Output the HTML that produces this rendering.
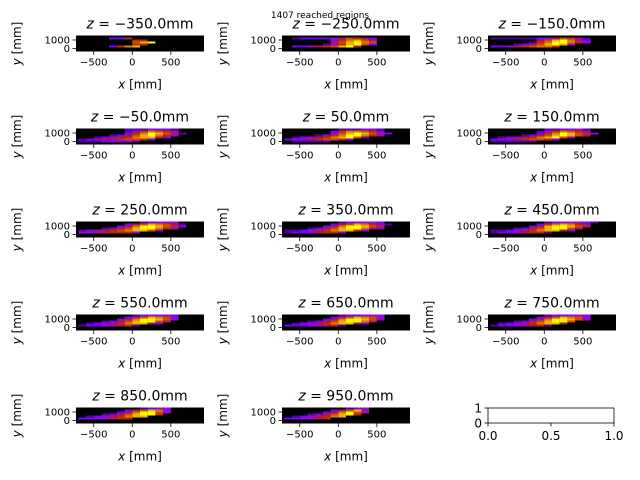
<!DOCTYPE html>
<html><head><meta charset="utf-8"><style>
body{margin:0;background:#fff}
svg{display:block;font-family:"DejaVu Sans","Liberation Sans",sans-serif}
</style></head><body>
<svg id="fig" width="640" height="480" viewBox="0 0 640 480" xmlns="http://www.w3.org/2000/svg">
<rect width="640" height="480" fill="#fff"/>
<text x="320" y="18" font-size="9" text-anchor="middle">1407 reached regions</text>
</svg>
<script>
const zValues = ["-350.0","-250.0","-150.0","-50.0","50.0","150.0","250.0","350.0","450.0","550.0","650.0","750.0","850.0","950.0"];
const xTicks = [-500, 0, 500];
const yTicks = [0, 1000];
const xBinStart = -700, xBinWidth = 100;
// each panel: 8 rows (top = high y), 16 x-bins from -700 to 900, intensity 0-9
const panelGrids = [
 ["0000000000000000","0000225000000000","0000000550000000","0000000689000000","0000000550000000","0000257800000000","0000000000000000","0000000000000000"],
 ["0000000000000000","0122223465420000","0000003578640000","0000004689760000","0000013589620000","0223456894000000","0000000000000000","0000000000000000"],
 ["0000000000000000","1111112346531000","0000004689742000","0000015799753000","0001246898300000","2234567750000000","0000000000000000","0000000000000000"],
 ["0000001112221000","0000001357653000","0000002579864100","0000124689753000","0012345788420000","1234456652000000","1112222100000000","0000000000000000"],
 ["0000000111221000","0000002577652000","0000003689864200","0000135799753000","0123457896100000","2334566520000000","0111110000000000","0000000000000000"],
 ["0000000112231000","0000001357653000","0000002579865300","0000124689864000","0123457896200000","2334566520000000","1111110000000000","0000000000000000"],
 ["0000000012333000","0000002468764100","0000024799865200","0001246899753000","1234567886200000","3344555200000000","0000000000000000","0000000000000000"],
 ["0000000123332000","0000002468753100","0000024799865000","0001246899742000","1123457885200000","1223455200000000","0000000000000000","0000000000000000"],
 ["0000000123332100","0000002578753000","0000024899865000","0001246899640000","1123457884200000","1223455100000000","0000000000000000","0000000000000000"],
 ["0000000123332000","0000002468763000","0000024799863000","0001246899640000","0123457884200000","1223345100000000","0000000000000000","0000000000000000"],
 ["0000000122333000","0000002468763000","0000024799863000","0001246899740000","0123457884200000","2223345100000000","0000000000000000","0000000000000000"],
 ["0000000122333000","0000002468763000","0000024799863000","0001246899600000","0123457884000000","1223345100000000","0000000000000000","0000000000000000"],
 ["0000000012330000","0000002468730000","0000024799630000","0001246899500000","0123457880000000","2233455000000000","0000000000000000","0000000000000000"],
 ["0000000012300000","0000002468400000","0000024796300000","0001246895000000","0123457800000000","2233450000000000","0000000000000000","0000000000000000"]
];
const colLeft=[76,282,488], rowTop=[35.5,128.5,221.5,314.5,407.5], AW=128, AH=16;
const xMin=-730, xMax=930, yMin=-353, yMax=1529;
const NS="http://www.w3.org/2000/svg";
const svg=document.getElementById('fig');
function mk(tag,attrs,parent){const e=document.createElementNS(NS,tag);for(const k in attrs)e.setAttribute(k,attrs[k]);(parent||svg).appendChild(e);return e;}
function cmap(t){const r=Math.sqrt(t),g=t*t*t,b=Math.max(0,Math.sin(2*Math.PI*t));return `rgb(${Math.round(r*255)},${Math.round(g*255)},${Math.round(b*255)})`;}
zValues.forEach((z,i)=>{
  const L=colLeft[i%3], T=rowTop[Math.floor(i/3)];
  const sx=v=>L+(v-xMin)/(xMax-xMin)*AW, sy=v=>T+AH-(v-yMin)/(yMax-yMin)*AH;
  const g=mk('g',{});
  
  
  const bg=mk('rect',{x:L,y:T,width:AW,height:AH,fill:'#000'},g);
  
  
  const grid=panelGrids[i], nr=grid.length, rh=(yMax-yMin)/nr;
  grid.forEach((row,r)=>{
    for(let c=0;c<row.length;c++){
      const v=+row[c]; if(!v) continue;
      const x0=xBinStart+c*xBinWidth, y1=yMax-r*rh;
      const cell=mk('rect',{x:sx(x0),y:sy(y1),width:sx(x0+xBinWidth)-sx(x0),height:sy(y1-rh)-sy(y1),fill:cmap(v/9)},g);
      
      
    }
  });
  xTicks.forEach(t=>{
    mk('line',{x1:sx(t),x2:sx(t),y1:T+AH,y2:T+AH+3.5,stroke:'#000','stroke-width':0.8},g);
    const lb=mk('text',{x:sx(t),y:T+AH+14,'font-size':10,'text-anchor':'middle'},g);
    lb.textContent=t<0?'\u2212'+(-t):String(t);
    
    
  });
  yTicks.forEach(t=>{
    mk('line',{x1:L,x2:L-3.5,y1:sy(t),y2:sy(t),stroke:'#000','stroke-width':0.8},g);
    const lb=mk('text',{x:L-6,y:sy(t)+3.5,'font-size':10,'text-anchor':'end'},g);
    lb.textContent=String(t);
    
    
  });
  const tt=mk('text',{x:L+AW/2,y:T-7,'font-size':14,'text-anchor':'middle'},g);
  tt.innerHTML='<tspan font-style="italic">z</tspan> = '+(z[0]==='-'?'\u2212'+z.slice(1):z)+'mm';
  
  
  const xl=mk('text',{x:L+AW/2,y:T+AH+37,'font-size':12,'text-anchor':'middle'},g);
  xl.innerHTML='<tspan font-style="italic">x</tspan> [mm]';
  
  
  const yl=mk('text',{x:0,y:0,'font-size':12,'text-anchor':'middle',transform:`translate(${L-55},${T+AH/2}) rotate(-90)`},g);
  yl.innerHTML='<tspan font-style="italic">y</tspan> [mm]';
  
  
});
// empty axes
(function(){
  const L=488,T=408,W=126,H=15;
  const g=mk('g',{});
  
  
  mk('rect',{x:L,y:T,width:W,height:H,fill:'#fff',stroke:'#000','stroke-width':0.8},g);
  [0,0.5,1].forEach(t=>{
    const x=L+t*W;
    mk('line',{x1:x,x2:x,y1:T+H,y2:T+H+3.5,stroke:'#000','stroke-width':0.8},g);
    const lb=mk('text',{x:x,y:T+H+17,'font-size':12,'text-anchor':'middle'},g);
    lb.textContent=t.toFixed(1);
    
    
  });
  [0,1].forEach(t=>{
    const y=T+H-t*H;
    mk('line',{x1:L,x2:L-3.5,y1:y,y2:y,stroke:'#000','stroke-width':0.8},g);
    const lb=mk('text',{x:L-6,y:y+4.5,'font-size':12,'text-anchor':'end'},g);
    lb.textContent=String(t);
    
    
  });
})();
</script>
</body></html>
